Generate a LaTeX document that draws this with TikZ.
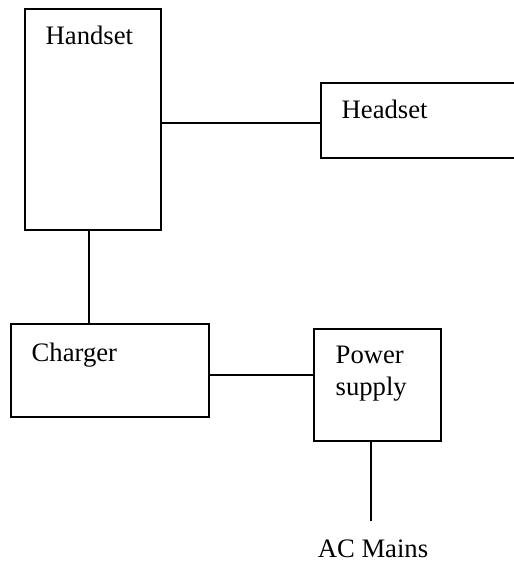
\documentclass[tikz,border=0pt]{standalone}
\usepackage{fontspec}
\setmainfont{Liberation Serif}
\usepackage{tikz}

\tikzset{
  blk/.style={draw, line width=0.6pt, inner sep=0pt},
  lbl/.style={font=\fontsize{12}{14.4}\selectfont, inner sep=0pt}
}

\begin{document}
\begin{tikzpicture}[x=0.45pt, y=-0.45pt, line width=0.6pt]
  \useasboundingbox (0,0) rectangle (513,562);
  % boxes
  \node[blk, minimum width=61.2pt, minimum height=99.45pt] (handset) at (93,119.5) {};
  \node[blk, minimum width=94.05pt, minimum height=33.75pt] (headset) at (425.5,120.5) {};
  \node[blk, minimum width=89.1pt, minimum height=41.85pt] (charger) at (110,370.5) {};
  \node[blk, minimum width=57.15pt, minimum height=50.4pt] (power) at (377.5,385) {};
  % labels
  \node[lbl, anchor=base west] (handsettxt) at (45,45) {Handset};
  \node[lbl, anchor=base west] (headsettxt) at (341,119) {Headset};
  \node[lbl, anchor=base west] (chargertxt) at (31,361) {Charger};
  \node[lbl, anchor=base west, align=left] (powertxt) at (335,395) {Power\\supply};
  \node[lbl, anchor=base] (mains) at (373,557) {AC Mains};
  % wires
  \draw (handset.east |- 0,123) -- (headset.west |- 0,123);
  \draw (handset.south -| 89,0) -- (charger.north -| 89,0);
  \draw (charger.east |- 0,375) -- (power.west |- 0,375);
  \draw (power.south -| 371,0) -- ([yshift=8pt]mains.north -| 371,0);
\end{tikzpicture}
\end{document}
